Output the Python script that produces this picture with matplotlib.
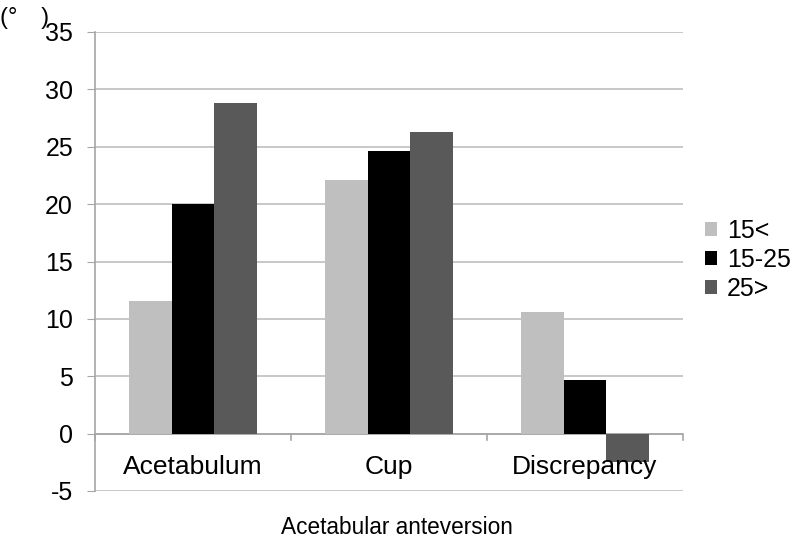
import matplotlib
matplotlib.use("Agg")
import matplotlib.pyplot as plt
import numpy as np

categories = ["Acetabulum", "Cup", "Discrepancy"]
series_names = ["15<", "15-25", "25>"]
s_low = [11.6, 22.1, 10.6]
s_mid = [20.0, 24.6, 4.7]
s_high = [28.8, 26.3, -2.5]
series_colors = ["#BFBFBF", "#000000", "#595959"]
yticks = [-5, 0, 5, 10, 15, 20, 25, 30, 35]

plt.rcParams['font.family'] = ['Liberation Sans', 'DejaVu Sans']
FS = 18

fig = plt.figure(figsize=(7.92, 5.40), dpi=100)
ax = fig.add_axes([95/792, 49/540, 588/792, 459/540])

x = np.arange(len(categories))
w = 0.219
for i, (vals, name, col) in enumerate(zip([s_low, s_mid, s_high], series_names, series_colors)):
    ax.bar(x + (i - 1) * w, vals, width=w, color=col, label=name, zorder=3)

ax.set_xlim(-0.5, 2.5)
ax.set_ylim(-5, 35)
ax.set_yticks(yticks)
ax.set_yticklabels([str(t) for t in yticks], fontsize=FS)
ax.yaxis.grid(True, color="#BFBFBF", linewidth=1.2, zorder=0)
ax.tick_params(axis='y', length=5.8, color="#A6A6A6", pad=10)

for s in ["top", "right", "bottom"]:
    ax.spines[s].set_visible(False)
ax.spines["left"].set_color("#A6A6A6")
ax.spines["left"].set_linewidth(1.2)

# x axis at y=0
ax.axhline(0, color="#A6A6A6", linewidth=1.2, zorder=2)
for b in [-0.5, 0.5, 1.5, 2.5]:
    ax.plot([b, b], [0, -0.55], color="#A6A6A6", linewidth=1.2, clip_on=False, zorder=2)
ax.set_xticks([])
for xi, c in zip(x, categories):
    ax.text(xi, -2.9, c, ha="center", va="center", fontsize=19, zorder=5)

fig.text(397/792, 1 - 527/540, "Acetabular anteversion", ha="center", va="center", fontsize=16.3)
fig.text(0, 1 - 18/540, "(°\u2002\u2002)", ha="left", va="center", fontsize=17,
         family=['Liberation Sans', 'DejaVu Sans'])

leg = ax.legend(loc="center left", bbox_to_anchor=((705 - 95) / 588, 0.503), frameon=False, fontsize=FS,
                handlelength=0.48, handleheight=0.48, handletextpad=0.4, labelspacing=0.2,
                borderpad=0, borderaxespad=0)

fig.savefig("out.png", dpi=100, facecolor="white")
